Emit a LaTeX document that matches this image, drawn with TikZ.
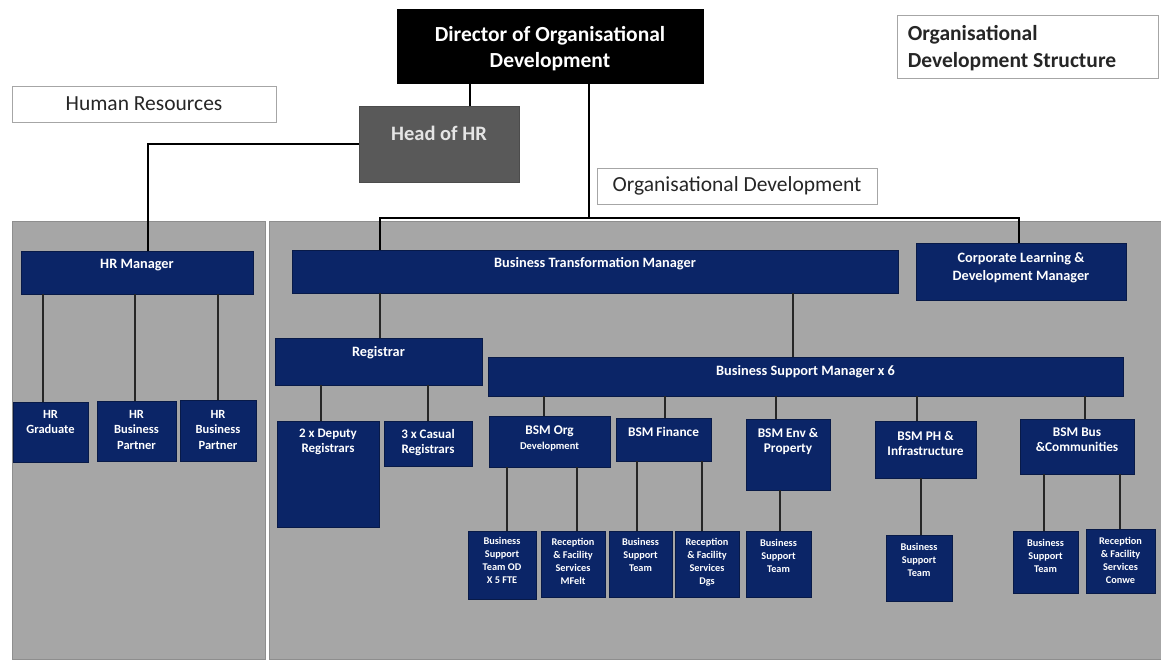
\documentclass[tikz,border=0pt]{standalone}
\usepackage{fontspec}
\setmainfont{Carlito}
\usetikzlibrary{fit}
\definecolor{navy}{HTML}{0B2567}
\definecolor{panelgray}{HTML}{A6A6A6}
\definecolor{paneledge}{HTML}{8E8E8E}
\definecolor{hrgray}{HTML}{595959}
\definecolor{lineink}{HTML}{262626}

% box: style, name, x1, y1, x2, y2, text drop from top, text style, text
\newcommand\orgbox[9]{%
  \node[#1, fit={(#3,#4) (#5,#6)}] (#2) {};
  \node[#8, anchor=north] (#2-t) at ([yshift=-#7pt]#2.north) {#9};}

\begin{document}
\begin{tikzpicture}[x=1pt,y=-1pt,
  navybox/.style={fill=navy, draw=navy!70!black, line width=0.6pt, inner sep=0pt},
  dirbox/.style={fill=black, draw=black, inner sep=0pt},
  hohbox/.style={fill=hrgray, draw=hrgray!85!black, line width=0.6pt, inner sep=0pt},
  lblbox/.style={fill=white, draw=gray!70, line width=0.8pt, inner sep=0pt},
  midtxt/.style={text=white, align=center, inner sep=0pt, font=\bfseries\fontsize{14.3}{18}\selectfont},
  hrtxt/.style={text=white, align=center, inner sep=0pt, font=\bfseries\fontsize{12.5}{15.5}\selectfont},
  regtxt/.style={text=white, align=center, inner sep=0pt, font=\bfseries\fontsize{13}{15}\selectfont},
  bsmtxt/.style={text=white, align=center, inner sep=0pt, font=\bfseries\fontsize{13.3}{15}\selectfont},
  smalltxt/.style={text=white, align=center, inner sep=0pt, font=\bfseries\fontsize{10.3}{13}\selectfont},
  dirtxt/.style={text=white, align=center, inner sep=0pt, font=\bfseries\fontsize{21.5}{26}\selectfont},
  hohtxt/.style={text=white!90!black, align=center, inner sep=0pt, font=\bfseries\fontsize{20.5}{22}\selectfont},
  lbltxt/.style={text=black!85, inner sep=0pt, font=\fontsize{21.5}{26}\selectfont},
  conn/.style={draw=lineink, line width=1.8pt},
  topconn/.style={draw=black, line width=1.4pt}]

\useasboundingbox (0,0) rectangle (1161,659);
\fill[white] (0,0) rectangle (1161,659);

% department panels
\filldraw[fill=panelgray, draw=paneledge, line width=0.8pt] (12,221) rectangle (265,659);
\filldraw[fill=panelgray, draw=paneledge, line width=0.8pt] (269,221) rectangle (1161,659);

% heads
\orgbox{dirbox}{dir}{397}{9}{703}{83}{17}{dirtxt}{Director of Organisational\\Development}
\orgbox{hohbox}{hoh}{359}{106}{519}{182}{20}{hohtxt}{Head of HR}

% section labels
\node[lblbox, fit={(12,86) (276,122)}] (hrlbl) {};
\node[lbltxt] (hrlbl-t) at (hrlbl) {Human Resources};
\node[lblbox, fit={(597,168) (877,204)}] (odlbl) {};
\node[lbltxt] (odlbl-t) at (odlbl) {Organisational Development};
\node[lblbox, fit={(897,15) (1158,78)}] (osd) {};
\node[lbltxt, font=\bfseries\fontsize{21.5}{27}\selectfont, align=left, anchor=north west]
  (osd-t) at ([xshift=11pt,yshift=-11pt]osd.north west) {Organisational\\Development Structure};

% Human Resources
\orgbox{navybox}{hrm}{21}{251}{253}{294}{8}{midtxt}{HR Manager}
\orgbox{navybox}{hrg}{13}{402}{88}{462}{8}{hrtxt}{HR\\Graduate}
\orgbox{navybox}{hrbp1}{97}{401}{176}{461}{9}{hrtxt}{HR\\Business\\Partner}
\orgbox{navybox}{hrbp2}{180}{400}{256}{461}{10}{hrtxt}{HR\\Business\\Partner}

% Organisational Development
\orgbox{navybox}{btm}{292}{250}{898}{293}{8}{midtxt}{Business Transformation Manager}
\orgbox{navybox}{cld}{916}{243}{1126}{300}{10}{midtxt}{Corporate Learning \&\\Development Manager}
\orgbox{navybox}{reg}{275}{338}{482}{385}{9}{midtxt}{Registrar}
\orgbox{navybox}{bsm}{488}{357}{1123}{396}{9}{midtxt}{Business Support Manager x 6}
\orgbox{navybox}{dep}{277}{421}{379}{527}{8}{regtxt}{2 x Deputy\\Registrars}
\orgbox{navybox}{cas}{384}{421}{472}{466}{8}{regtxt}{3 x Casual\\Registrars}

\orgbox{navybox}{bsmod}{489}{416}{610}{467}{10}{bsmtxt}{BSM Org\\{\fontsize{10.5}{14}\selectfont Development}}
\orgbox{navybox}{bsmfin}{616}{418}{711}{461}{9}{bsmtxt}{BSM Finance}
\orgbox{navybox}{bsmenv}{746}{419}{830}{490}{9}{bsmtxt}{BSM Env \&\\Property}
\orgbox{navybox}{bsmph}{875}{421}{976}{478}{10}{bsmtxt}{BSM PH \&\\Infrastructure}
\orgbox{navybox}{bsmbus}{1020}{419}{1134}{474}{9}{bsmtxt}{BSM Bus\\\&Communities}

\orgbox{navybox}{bstod}{468}{531}{536}{599}{6}{smalltxt}{Business\\Support\\Team OD\\X 5 FTE}
\orgbox{navybox}{rfmf}{541}{531}{605}{597}{7}{smalltxt}{Reception\\\& Facility\\Services\\MFelt}
\orgbox{navybox}{bstfin}{609}{531}{672}{597}{7}{smalltxt}{Business\\Support\\Team}
\orgbox{navybox}{rfdgs}{675}{531}{739}{597}{7}{smalltxt}{Reception\\\& Facility\\Services\\Dgs}
\orgbox{navybox}{bstenv}{746}{531}{811}{597}{8}{smalltxt}{Business\\Support\\Team}
\orgbox{navybox}{bstph}{886}{535}{952}{601}{8}{smalltxt}{Business\\Support\\Team}
\orgbox{navybox}{bstbus}{1013}{531}{1078}{593}{8}{smalltxt}{Business\\Support\\Team}
\orgbox{navybox}{rfcon}{1086}{529}{1155}{593}{8}{smalltxt}{Reception\\\& Facility\\Services\\Conwe}

% reporting lines from the director
\coordinate (odbus) at (589,218);
\draw[topconn] (dir.south -| 470,0) -- (hoh.north -| 470,0);
\draw[topconn] (dir.south -| odbus) -- (odbus);
\draw[topconn] (btm.north -| 380,0) |- (odbus) -| (cld.north -| 1019,0);
\draw[topconn] (hoh.west) -| (hrm.north -| 148,0);

% Human Resources lines
\draw[conn] (hrm.south -| 43,0) -- (hrg.north -| 43,0);
\draw[conn] (hrm.south -| 135,0) -- (hrbp1.north -| 135,0);
\draw[conn] (hrm.south -| 218,0) -- (hrbp2.north -| 218,0);

% Organisational Development lines
\draw[conn] (btm.south -| 380,0) -- (reg.north -| 380,0);
\draw[conn] (btm.south -| 793,0) -- (bsm.north -| 793,0);
\draw[conn] (reg.south -| 321,0) -- (dep.north -| 321,0);
\draw[conn] (reg.south -| 428,0) -- (cas.north -| 428,0);
\draw[conn] (bsm.south -| 544,0) -- (bsmod.north -| 544,0);
\draw[conn] (bsm.south -| 665,0) -- (bsmfin.north -| 665,0);
\draw[conn] (bsm.south -| 776,0) -- (bsmenv.north -| 776,0);
\draw[conn] (bsm.south -| 917,0) -- (bsmph.north -| 917,0);
\draw[conn] (bsm.south -| 1085,0) -- (bsmbus.north -| 1085,0);
\draw[conn] (bsmod.south -| 507,0) -- (bstod.north -| 507,0);
\draw[conn] (bsmod.south -| 577,0) -- (rfmf.north -| 577,0);
\draw[conn] (bsmfin.south -| 637,0) -- (bstfin.north -| 637,0);
\draw[conn] (bsmfin.south -| 702,0) -- (rfdgs.north -| 702,0);
\draw[conn] (bsmenv.south -| 780,0) -- (bstenv.north -| 780,0);
\draw[conn] (bsmph.south -| 921,0) -- (bstph.north -| 921,0);
\draw[conn] (bsmbus.south -| 1044,0) -- (bstbus.north -| 1044,0);
\draw[conn] (bsmbus.south -| 1120,0) -- (rfcon.north -| 1120,0);

\end{tikzpicture}
\end{document}
